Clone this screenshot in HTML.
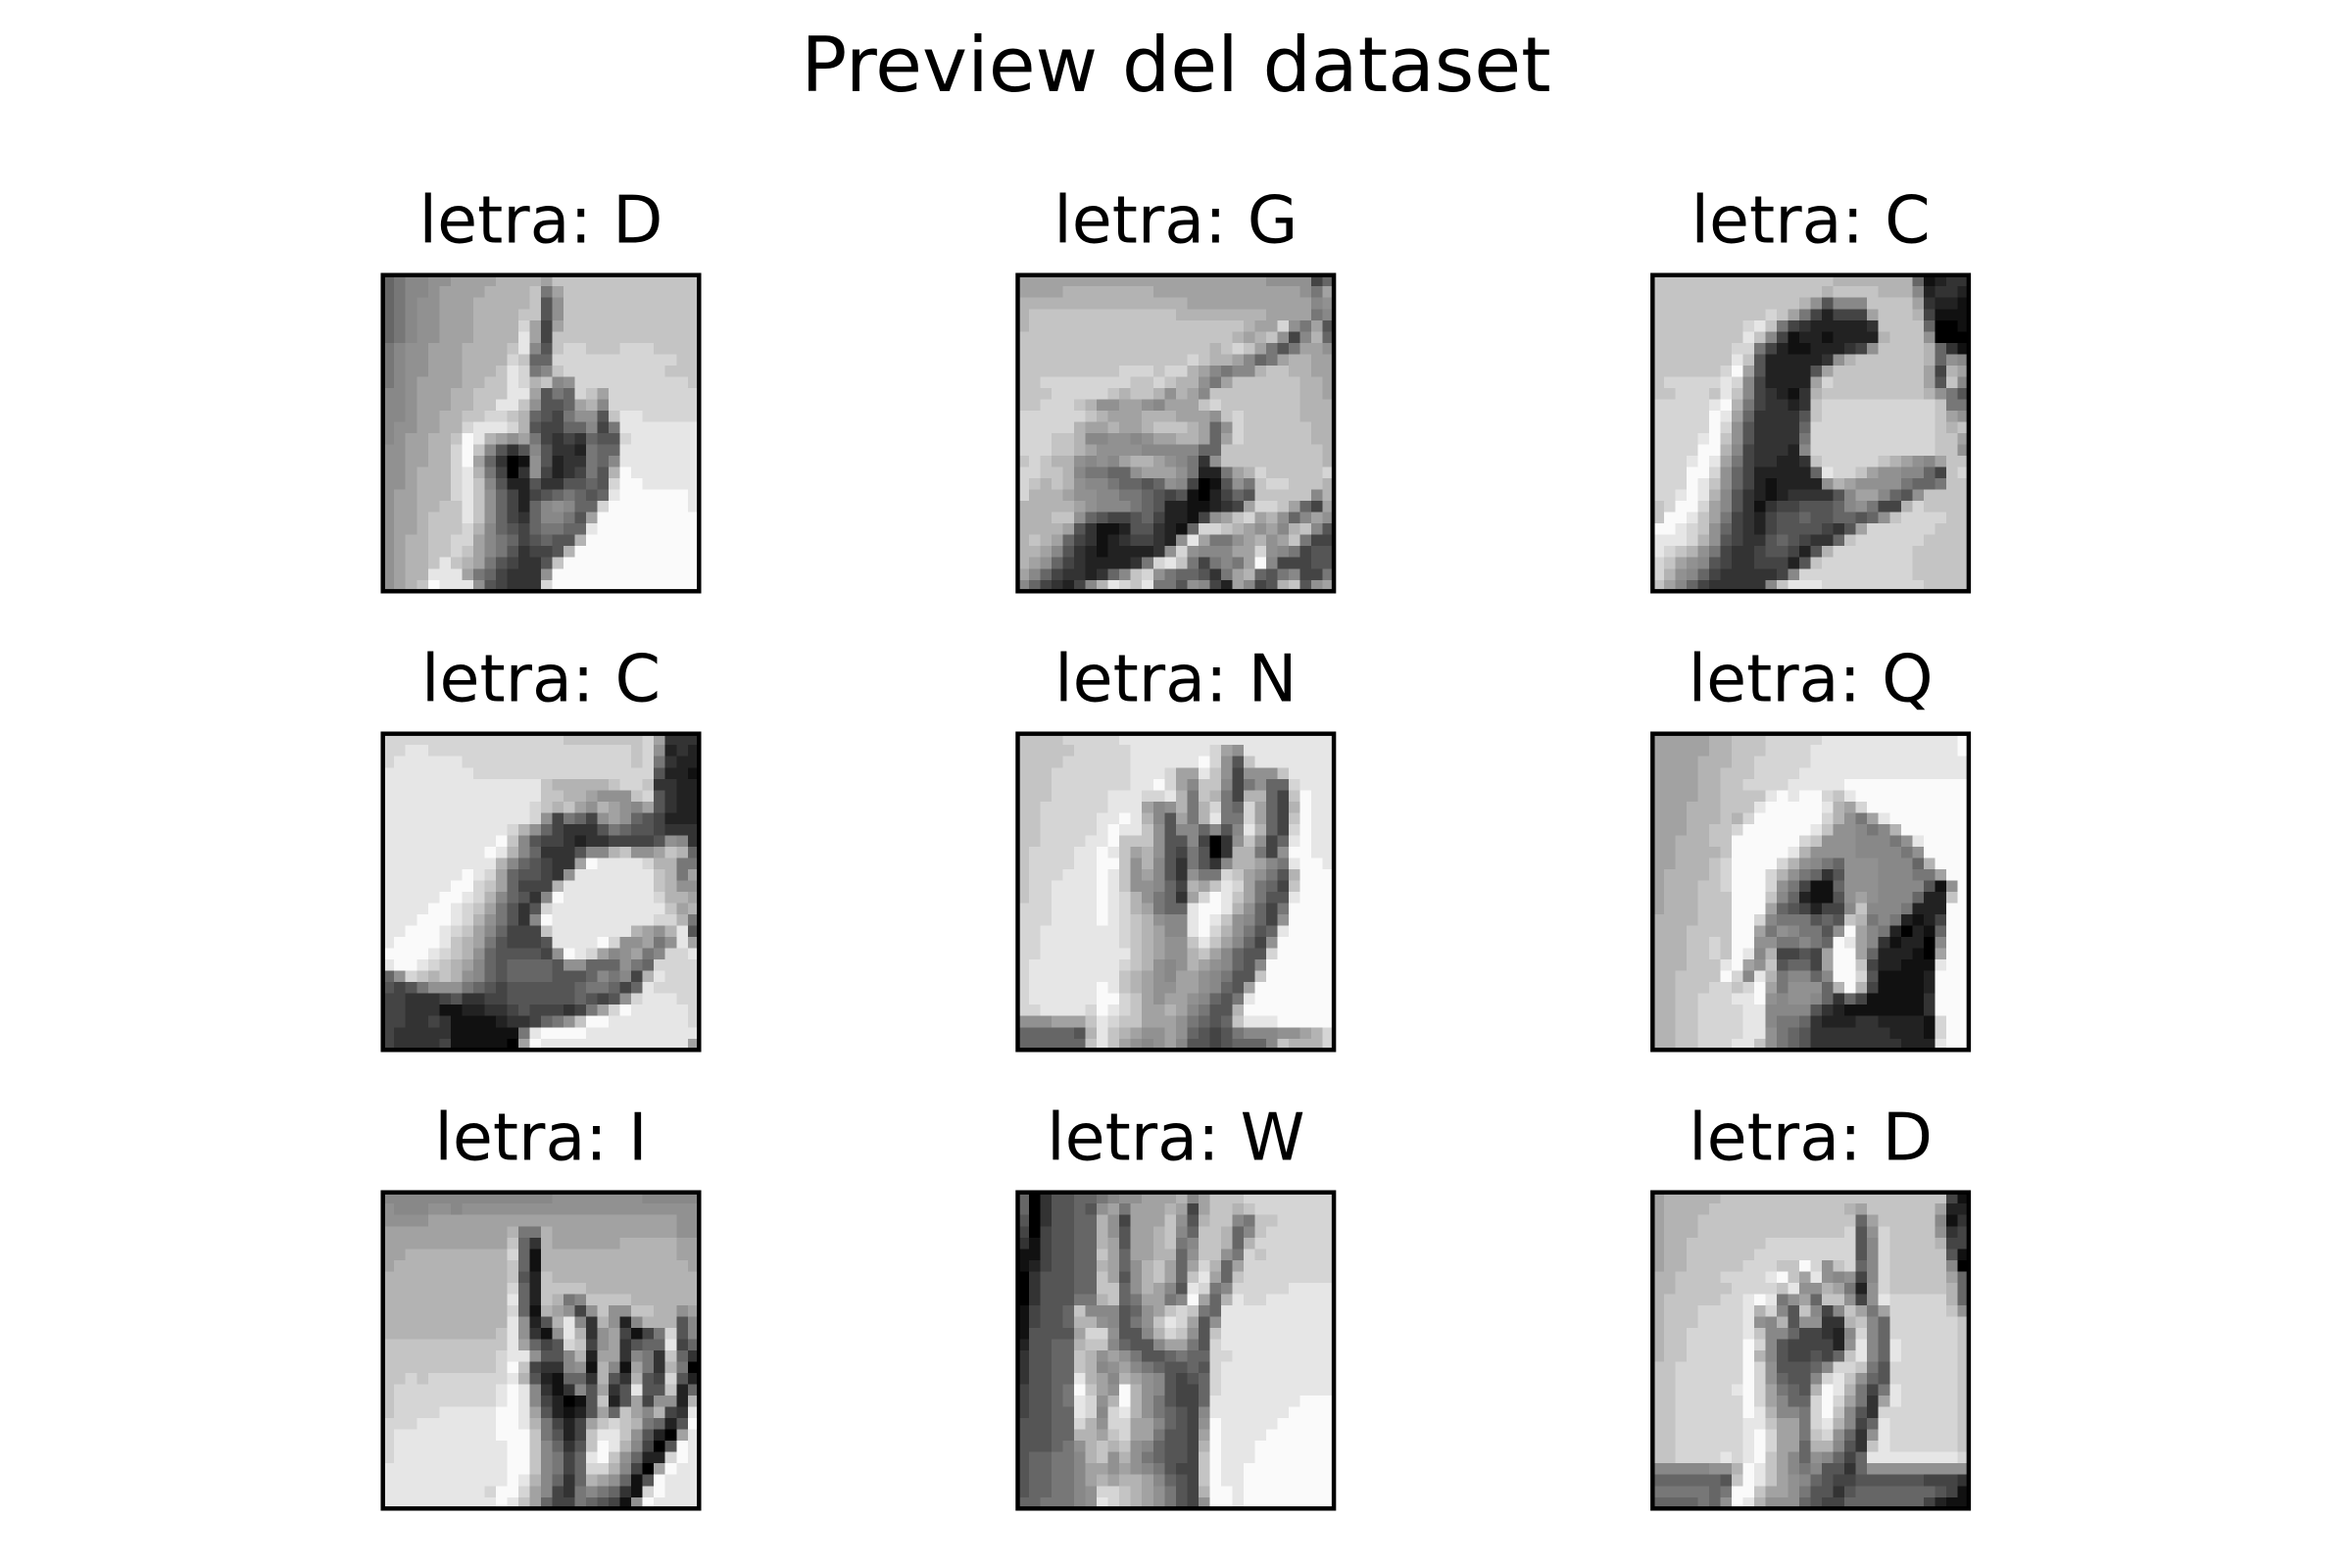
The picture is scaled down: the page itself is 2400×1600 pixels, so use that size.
<!DOCTYPE html>
<html lang="es">
<head>
<meta charset="utf-8">
<title>Preview del dataset</title>
<style>
html,body{margin:0;padding:0;background:#fff;width:2400px;height:1600px;overflow:hidden}
svg{display:block}
text{font-family:"DejaVu Sans","Liberation Sans",sans-serif;fill:#000}
</style>
</head>
<body>
<svg id="chart" xmlns="http://www.w3.org/2000/svg" width="2400" height="1600" viewBox="0 0 2400 1600">
<rect x="0" y="0" width="2400" height="1600" fill="#ffffff"/>
<text x="1200" y="93" text-anchor="middle" font-size="77.8">Preview del dataset</text>
</svg>
<script>
const letters=["D","G","C","C","N","Q","I","W","D"];
const imageD1=[
[6,7,8,8,9,9,10,10,10,10,11,11,11,11,10,12,12,12,12,12,12,12,12,12,12,12,12,12],
[6,7,8,8,9,10,10,10,10,11,11,11,11,12,7,10,12,12,12,12,12,12,12,12,12,12,12,12],
[6,7,8,9,9,10,10,10,11,11,11,11,11,12,5,9,12,12,12,12,12,12,12,12,12,12,12,12],
[6,7,8,9,9,10,10,10,11,11,11,11,12,12,5,9,12,12,12,12,12,12,12,12,12,12,12,12],
[6,7,8,9,9,10,10,10,11,11,11,11,13,10,4,10,12,12,12,12,12,12,12,12,12,12,12,12],
[6,7,8,9,9,10,10,10,11,11,11,11,14,10,4,12,12,12,12,12,12,12,12,12,12,12,12,12],
[7,8,9,9,10,10,10,11,11,11,11,12,14,8,5,12,13,13,12,12,12,13,13,13,12,12,12,12],
[7,8,9,9,10,10,10,11,11,11,11,13,12,6,6,13,13,13,13,13,13,13,13,13,13,13,12,12],
[7,8,9,9,10,10,10,11,11,11,12,14,13,7,8,12,13,13,13,13,13,13,13,13,13,12,12,12],
[7,8,9,10,10,10,10,11,11,12,12,14,13,11,12,8,9,13,13,13,13,13,13,13,13,13,13,12],
[8,8,9,10,10,10,11,11,12,12,12,14,14,10,5,7,6,13,12,10,13,13,13,13,13,13,13,13],
[8,8,9,10,10,10,11,11,12,12,14,14,12,9,5,5,6,10,11,8,13,13,13,13,13,13,13,13],
[8,8,9,10,10,11,11,12,12,13,13,12,11,6,5,4,7,9,9,5,12,14,14,13,13,13,13,13],
[8,9,9,10,10,11,11,13,14,14,14,13,11,5,4,4,6,6,8,4,7,14,14,14,14,14,14,14],
[8,9,10,10,11,11,12,15,14,11,10,9,10,7,4,3,4,3,6,5,5,13,14,14,14,14,14,14],
[9,9,10,10,11,11,13,15,12,8,5,3,5,8,5,3,3,2,7,6,6,14,14,14,14,14,14,14],
[9,9,10,10,11,11,13,15,10,6,3,0,1,9,5,2,3,3,7,6,8,14,14,14,14,14,14,14],
[9,9,10,11,11,11,13,14,11,7,4,0,3,9,4,2,3,4,7,5,11,15,14,14,14,14,14,14],
[9,9,10,11,11,11,13,14,12,8,5,2,2,5,3,3,5,5,6,5,13,15,15,14,14,14,14,14],
[9,10,10,11,11,11,13,14,12,9,6,4,2,4,5,6,7,6,5,6,14,15,15,15,15,15,15,14],
[9,10,10,11,11,12,12,14,12,9,6,4,2,6,8,9,8,6,6,13,15,15,15,15,15,15,15,14],
[9,10,10,11,12,12,12,14,12,9,6,4,3,6,8,8,7,5,10,15,15,15,15,15,15,15,15,15],
[9,10,10,11,12,12,12,13,11,8,6,5,4,6,7,7,6,6,14,15,15,15,15,15,15,15,15,15],
[9,10,11,11,12,12,13,13,10,8,7,6,4,5,6,5,5,11,15,15,15,15,15,15,15,15,15,15],
[9,10,11,11,12,12,13,12,10,8,7,5,3,4,4,5,11,15,15,15,15,15,15,15,15,15,15,15],
[9,10,11,11,12,14,12,11,10,7,5,4,3,3,5,12,15,15,15,15,15,15,15,15,15,15,15,15],
[9,10,11,11,14,14,14,10,7,6,4,3,3,3,9,15,15,15,15,15,15,15,15,15,15,15,15,15],
[9,10,11,12,15,14,14,14,9,5,4,3,3,3,13,15,15,15,15,15,15,15,15,15,15,15,15,15]];
const imageG=[
[10,10,10,10,10,10,10,10,10,10,10,10,10,10,10,10,10,10,10,10,10,10,9,9,9,9,4,6],
[10,10,10,10,11,11,11,11,11,11,11,11,10,10,10,10,10,10,10,10,10,10,10,10,10,9,7,10],
[11,11,11,11,11,11,11,11,11,11,11,11,11,11,11,10,10,10,10,10,10,10,10,10,10,10,8,9],
[11,12,12,12,12,12,12,12,12,12,12,12,12,12,11,11,11,11,11,11,11,11,10,10,10,10,7,8],
[11,12,12,12,12,12,12,12,12,12,12,12,12,12,12,12,12,12,12,12,11,10,10,13,9,7,10,5],
[12,12,12,12,12,12,12,12,12,12,12,12,12,12,12,12,12,12,12,11,10,11,12,9,4,8,11,6],
[12,12,12,12,12,12,12,12,12,12,12,12,12,12,12,12,12,11,12,13,12,10,7,5,7,10,10,9],
[12,12,12,12,12,12,12,12,12,12,12,12,12,12,12,13,12,11,11,10,8,6,7,10,11,11,10,10],
[12,12,12,12,12,12,12,12,12,13,13,13,12,13,13,11,10,8,7,8,8,11,12,12,11,11,10,10],
[12,12,13,13,13,13,13,13,13,13,12,12,13,12,11,11,9,7,10,12,12,12,12,12,12,11,11,10],
[12,12,12,13,13,13,13,13,12,11,12,12,11,9,11,10,8,12,12,12,12,12,12,12,12,11,11,10],
[12,12,13,13,13,12,11,9,9,10,10,9,8,10,10,10,12,13,12,12,12,12,12,12,12,11,11,11],
[13,13,13,13,13,13,12,11,10,10,10,11,11,11,10,10,10,9,12,13,12,12,12,12,12,11,11,11],
[13,13,13,13,13,11,10,10,11,10,10,11,12,12,12,11,10,6,9,13,12,12,12,12,12,12,11,11],
[13,13,13,12,12,11,8,8,9,9,8,9,10,10,11,11,10,6,10,13,12,12,12,12,12,12,11,11],
[13,13,13,12,12,11,10,9,9,9,9,8,8,8,8,8,6,6,12,12,12,12,12,12,12,12,12,11],
[12,13,12,11,11,9,8,9,8,10,11,11,10,9,8,7,3,9,12,12,12,12,12,12,12,12,12,11],
[13,13,12,12,11,8,7,7,6,6,9,10,10,10,9,7,2,2,7,10,11,13,12,12,12,12,12,13],
[13,12,11,12,11,9,8,8,7,6,6,5,6,9,8,4,0,1,5,9,7,12,13,13,12,12,12,11],
[13,11,11,11,10,9,9,8,8,7,7,6,5,4,5,1,0,2,4,6,5,12,12,12,12,12,8,11],
[11,11,11,11,11,10,9,8,8,8,7,6,5,2,2,1,1,2,3,4,10,13,13,12,10,6,4,10],
[11,11,11,12,12,9,6,5,4,4,5,6,4,2,2,1,4,9,10,12,13,10,11,9,6,8,10,9],
[11,11,11,11,10,5,3,1,1,2,5,5,3,2,1,6,13,13,12,11,10,9,10,8,11,12,8,5],
[11,12,11,10,6,4,3,1,2,3,4,4,3,2,9,14,10,7,7,9,10,11,9,10,12,7,4,4],
[11,11,10,8,5,3,2,1,2,2,2,2,3,9,13,9,8,8,8,10,10,13,9,8,7,4,5,5],
[11,10,9,6,4,3,2,2,2,2,3,7,13,14,12,7,4,7,8,7,10,15,8,4,4,4,5,5],
[10,8,6,4,3,3,2,3,6,8,12,13,9,7,6,6,5,3,7,10,11,6,5,7,8,4,4,7],
[8,6,4,3,2,4,8,11,14,13,12,14,7,7,5,9,8,4,2,10,8,4,5,11,12,5,9,10]];
const imageC1=[
[12,12,12,12,12,12,12,12,12,12,12,12,12,12,12,12,11,11,11,11,11,11,11,6,1,2,3,3],
[12,12,12,12,12,12,12,12,12,12,12,12,12,12,12,11,12,12,12,12,11,11,11,8,2,3,3,2],
[12,12,12,12,12,12,12,12,12,12,12,12,12,11,9,5,8,8,8,12,12,12,12,10,3,2,2,1],
[12,12,12,12,12,12,12,12,12,12,13,12,10,7,4,2,4,4,4,10,12,12,12,11,4,1,1,1],
[12,12,12,12,12,12,12,12,13,14,12,7,4,3,2,2,2,2,2,3,12,12,12,12,6,0,0,1],
[12,12,12,12,12,12,12,12,14,12,8,4,1,2,2,1,2,2,2,2,11,12,12,12,9,0,0,0],
[12,12,12,12,12,12,12,13,13,7,4,2,1,1,2,2,2,3,4,9,12,12,12,12,11,6,3,1],
[12,12,12,12,12,12,12,14,12,5,2,2,2,2,2,3,9,11,12,12,12,12,12,12,11,6,9,8],
[12,12,12,12,12,12,13,15,10,5,2,2,2,2,5,10,12,12,12,12,12,12,12,12,10,4,11,10],
[12,13,13,13,13,13,14,13,8,4,2,2,2,2,10,13,12,12,12,12,12,12,12,12,10,5,12,8],
[12,12,13,13,13,12,14,12,8,4,3,2,1,3,11,12,12,12,12,12,12,12,12,12,11,9,7,5],
[13,13,13,13,13,14,15,11,7,4,3,3,2,3,12,13,13,13,13,13,13,13,13,13,13,12,7,7],
[13,13,13,13,13,15,14,10,6,3,3,3,3,5,12,13,13,13,13,13,13,13,13,13,13,12,10,9],
[13,13,13,13,13,15,13,9,5,3,3,3,3,6,13,13,13,13,13,13,13,13,13,13,13,12,11,12],
[13,13,13,13,14,15,12,9,5,3,3,3,3,7,13,13,13,13,13,13,13,13,13,13,13,12,12,10],
[13,13,13,13,15,15,11,8,4,3,3,3,2,8,13,13,13,13,13,13,13,13,13,13,13,12,12,9],
[13,13,13,14,15,14,10,7,4,3,3,2,2,3,12,13,13,13,13,13,12,11,10,9,8,10,12,12],
[13,13,13,15,15,13,9,6,4,2,2,2,2,2,6,14,13,13,12,10,9,9,8,8,6,4,12,13],
[13,13,13,15,14,12,9,6,4,2,1,2,2,2,2,9,11,10,9,9,9,9,7,6,6,7,12,12],
[13,13,14,15,14,11,8,5,3,2,1,2,3,3,3,3,5,8,10,10,8,6,5,9,12,12,12,12],
[12,13,15,15,13,10,8,5,3,1,3,4,4,5,5,5,6,8,9,7,4,4,11,13,12,12,12,12],
[12,15,15,14,12,10,7,4,3,2,4,5,5,6,5,5,6,6,5,6,9,12,13,13,13,13,12,12],
[15,15,14,13,12,9,6,4,3,2,4,5,5,5,5,4,3,5,10,13,13,13,13,13,13,12,12,12],
[14,14,14,13,11,9,5,4,3,3,5,6,5,4,3,3,6,12,13,13,13,13,13,13,12,12,12,12],
[14,13,12,11,9,7,4,3,3,4,5,5,4,2,5,11,13,13,13,13,13,13,13,12,12,12,12,12],
[13,12,10,9,8,5,4,3,3,4,4,4,2,5,12,13,13,13,13,13,13,13,13,12,12,12,12,12],
[13,11,9,8,6,4,3,3,3,3,3,4,8,13,13,13,13,13,13,13,13,13,13,12,12,12,12,12],
[12,10,8,6,4,3,3,3,3,3,8,12,14,14,14,13,13,13,13,13,13,13,13,13,12,12,12,12]];
const imageC2=[
[13,13,13,13,13,13,13,13,13,13,13,13,13,13,13,13,12,12,12,12,12,12,12,13,10,3,3,3],
[13,13,14,14,13,13,13,13,13,13,13,13,13,13,13,13,13,13,13,13,13,13,12,13,9,2,3,2],
[13,14,14,14,14,14,14,13,13,13,13,13,13,13,13,13,13,13,13,13,13,13,12,13,7,3,2,2],
[14,14,14,14,14,14,14,14,13,13,13,13,13,13,13,13,13,13,13,13,13,13,13,13,5,2,2,1],
[14,14,14,14,14,14,14,14,14,14,14,14,14,14,12,11,11,11,11,11,12,13,13,12,3,3,2,2],
[14,14,14,14,14,14,14,14,14,14,14,14,14,14,12,12,11,11,10,9,9,9,12,13,5,3,2,2],
[14,14,14,14,14,14,14,14,14,14,14,14,14,13,12,11,12,10,9,11,10,9,8,10,5,3,2,2],
[14,14,14,14,14,14,14,14,14,14,14,14,14,13,9,4,7,6,4,9,10,9,6,5,4,2,2,2],
[14,14,14,14,14,14,14,14,14,14,14,13,11,9,6,4,3,3,3,5,7,6,5,5,4,3,3,3],
[14,14,14,14,14,14,14,14,14,14,15,12,8,5,4,4,3,2,3,3,4,4,4,4,5,9,8,3],
[14,14,14,14,14,14,14,14,14,15,14,11,8,6,3,3,3,5,8,8,11,12,9,9,10,12,11,6],
[14,14,14,14,14,14,14,14,14,14,11,8,6,5,4,3,3,10,15,14,14,14,14,13,11,11,7,7],
[14,14,14,14,14,14,14,15,14,13,10,6,5,5,4,3,9,14,14,14,14,14,14,14,12,11,7,10],
[14,14,14,14,14,14,15,15,13,12,10,6,4,4,4,11,14,14,14,14,14,14,14,14,12,11,9,9],
[14,14,14,14,14,15,15,14,13,11,8,6,5,3,8,15,14,14,14,14,14,14,14,14,13,11,11,10],
[14,14,14,14,15,15,14,13,12,10,7,5,3,5,13,14,14,14,14,14,14,14,14,14,14,12,10,11],
[14,14,14,15,15,15,14,13,11,9,7,5,3,8,15,14,14,14,14,14,14,14,14,14,13,13,11,7],
[14,14,15,15,15,14,13,12,10,8,6,4,4,4,12,14,14,14,14,14,14,14,11,10,9,11,14,5],
[14,15,15,15,15,14,12,11,10,7,5,4,4,4,5,14,14,14,14,15,13,9,9,10,7,9,14,10],
[15,15,15,15,14,13,12,11,9,6,5,5,5,5,4,9,15,14,13,10,8,9,10,7,8,13,13,14],
[14,15,15,14,13,12,11,10,8,6,5,6,6,6,6,5,9,9,6,6,6,9,7,6,13,13,13,13],
[6,9,13,12,11,12,11,9,8,6,5,6,6,6,6,5,5,5,6,8,7,8,4,11,14,13,13,13],
[5,4,5,7,9,9,9,7,6,5,4,5,5,5,5,5,5,6,7,7,6,4,6,14,13,13,13,13],
[4,4,3,3,3,4,5,3,3,4,4,5,5,5,5,5,5,6,5,4,5,9,13,14,14,14,13,13],
[4,4,3,3,3,1,1,2,2,3,3,4,5,4,4,4,3,4,7,10,13,15,14,14,14,14,14,13],
[4,4,3,3,4,3,1,1,1,1,2,3,3,4,6,7,9,12,15,15,14,14,14,14,14,14,14,13],
[4,3,3,3,3,3,1,1,1,1,1,1,7,14,15,15,15,15,14,14,14,14,14,14,14,14,14,14],
[4,3,3,3,3,4,1,1,1,1,1,0,10,15,14,14,14,14,14,14,14,14,14,14,14,14,14,10]];
const imageN=[
[12,12,12,12,13,13,13,13,13,14,14,14,14,14,14,14,14,14,14,14,14,14,14,14,14,14,14,14],
[12,12,12,12,12,13,13,13,13,13,14,14,14,14,14,14,14,13,10,9,14,14,14,14,14,14,14,14],
[12,12,12,12,13,13,13,13,13,13,14,14,14,14,14,14,15,13,9,5,12,14,14,14,14,14,14,14],
[12,12,12,13,13,13,13,13,13,13,14,14,14,13,10,10,14,12,9,4,9,9,9,12,14,14,14,14],
[12,12,12,13,13,13,13,13,13,13,14,14,15,13,10,8,12,12,8,4,7,9,6,6,13,14,14,14],
[12,12,12,13,13,13,13,13,14,14,14,13,13,14,11,7,12,11,7,4,11,11,6,4,12,15,14,14],
[12,12,13,13,13,13,13,13,14,14,14,10,8,9,11,7,11,13,7,6,13,10,6,4,11,15,14,14],
[12,12,13,13,13,13,13,14,14,15,14,11,8,5,10,7,11,14,7,7,13,10,6,4,12,15,14,14],
[12,12,13,13,13,13,13,14,15,14,14,12,9,5,8,8,6,8,5,8,14,11,6,4,13,15,14,14],
[12,12,13,13,13,13,14,14,15,12,12,12,9,5,5,8,4,0,3,9,12,9,4,6,14,15,14,14],
[12,13,13,13,13,14,14,15,14,12,10,11,9,5,4,7,5,0,3,11,11,7,4,9,15,15,14,14],
[12,13,13,13,13,14,14,15,15,12,9,11,8,5,3,7,5,3,8,11,11,10,8,7,14,15,15,14],
[12,13,13,13,14,14,14,15,14,12,9,10,8,5,3,9,7,7,13,12,10,9,7,5,11,15,15,15],
[12,13,13,14,14,14,14,15,14,12,9,9,8,6,4,11,10,12,14,13,10,7,6,4,12,15,15,15],
[12,13,13,14,14,14,14,15,14,13,11,9,7,6,3,10,13,15,14,12,10,7,5,5,14,15,15,15],
[13,13,13,14,14,14,14,15,14,13,11,10,7,6,6,14,15,15,14,11,9,6,4,7,15,15,15,15],
[13,13,13,14,14,14,14,15,14,13,12,11,9,8,8,14,15,14,12,9,8,6,4,9,15,15,15,15],
[13,13,14,14,14,14,14,14,14,13,12,11,10,8,8,14,15,13,11,9,7,5,6,14,15,15,15,15],
[13,13,14,14,14,14,14,14,14,13,12,11,10,9,9,12,14,12,10,8,6,4,9,15,15,15,15,15],
[13,13,14,14,14,14,14,14,14,14,12,11,10,9,9,11,12,10,8,6,5,5,13,15,15,15,15,15],
[13,14,14,14,14,14,14,14,14,13,12,11,9,8,9,11,10,9,8,6,5,8,15,15,15,15,15,15],
[13,14,14,14,14,14,14,14,14,12,11,10,9,8,10,10,9,8,7,5,5,12,15,15,15,15,15,15],
[13,14,14,14,14,14,14,15,14,12,11,10,9,9,10,10,9,8,6,5,10,15,15,15,15,15,15,15],
[13,14,14,14,14,14,14,15,15,13,12,10,9,10,10,9,8,6,5,7,14,15,15,15,15,15,15,15],
[13,13,14,14,14,14,13,15,14,13,12,10,10,11,10,8,7,5,5,11,15,15,15,15,15,15,15,15],
[9,9,9,10,10,10,12,14,13,12,12,10,10,10,9,7,6,5,6,12,14,14,14,15,15,15,15,15],
[6,6,6,6,6,5,11,14,12,11,10,9,9,10,9,6,5,4,5,7,8,8,8,9,9,10,11,13],
[6,6,6,6,6,6,12,14,12,10,9,8,9,10,8,5,5,4,5,6,6,6,8,12,11,11,11,13]];
const imageQ=[
[10,10,10,10,10,11,11,12,12,12,13,13,13,13,13,14,14,14,14,14,14,14,14,14,14,14,14,15],
[10,10,10,10,10,11,11,12,12,12,13,13,13,13,14,14,14,14,14,14,14,14,14,14,14,14,14,15],
[10,10,10,10,11,11,11,12,12,13,13,13,13,13,14,14,14,14,14,14,14,14,14,14,14,14,14,14],
[10,10,10,10,11,11,12,12,12,13,13,13,13,14,14,14,14,14,14,14,14,14,14,14,14,14,14,14],
[10,10,10,10,11,11,12,12,13,13,13,13,14,14,14,14,14,15,15,15,15,15,15,15,15,15,15,15],
[10,10,10,10,11,11,12,12,12,12,14,15,14,15,15,13,12,14,15,15,15,15,15,15,15,15,15,15],
[10,10,10,11,11,11,12,12,12,14,15,15,15,15,15,14,11,10,13,15,15,15,15,15,15,15,15,15],
[10,10,10,11,11,11,12,11,13,15,15,15,15,15,15,13,11,9,7,10,14,15,15,15,15,15,15,15],
[10,10,10,11,11,12,12,13,15,15,15,15,15,15,14,12,9,9,8,7,8,11,15,15,15,15,15,15],
[10,10,11,11,11,12,12,15,15,15,15,15,15,13,12,9,9,9,8,8,8,7,9,14,15,15,15,15],
[10,10,11,11,11,11,12,15,15,15,15,15,14,11,9,9,9,9,8,8,8,8,7,9,15,15,15,15],
[10,10,11,11,11,12,13,15,15,15,15,13,11,9,8,7,6,9,9,9,8,8,8,6,11,15,15,15],
[10,11,11,11,11,12,13,15,15,15,13,11,9,7,6,3,5,9,9,9,8,8,8,7,7,10,15,15],
[10,11,11,11,12,12,13,15,15,15,13,9,7,4,1,1,6,9,9,9,8,8,8,8,5,1,9,15],
[10,11,11,11,12,12,12,15,15,15,12,8,6,2,1,1,5,9,10,9,8,8,8,6,2,2,12,15],
[10,11,11,11,12,12,12,15,15,15,10,6,5,4,2,4,4,8,12,8,8,8,7,2,2,2,15,15],
[11,11,11,11,12,12,12,15,15,13,8,7,7,7,5,6,5,12,11,7,8,7,2,1,2,4,15,15],
[11,11,11,12,12,12,12,15,15,10,7,9,8,7,7,5,9,15,10,8,7,2,0,2,1,6,15,15],
[11,11,11,12,12,13,12,15,15,9,9,7,7,8,7,6,15,14,10,8,3,1,2,2,0,8,15,15],
[11,11,11,12,12,13,12,15,14,8,11,4,4,5,4,10,15,15,10,6,2,2,2,1,0,10,15,15],
[11,11,11,12,12,12,14,15,10,9,12,5,6,6,4,10,15,15,12,4,2,2,1,1,1,14,15,15],
[11,11,12,12,12,12,15,13,8,14,11,7,8,8,6,8,15,15,13,5,1,1,1,1,2,15,15,15],
[11,11,12,12,12,13,13,12,13,15,10,7,9,9,9,6,11,15,11,4,1,1,1,1,2,15,15,15],
[11,11,12,12,13,13,13,14,14,15,9,8,9,9,8,6,3,6,4,1,1,1,1,1,3,15,15,15],
[11,11,12,12,13,13,13,13,14,14,8,8,8,8,5,3,2,1,1,1,1,1,1,1,3,15,15,15],
[11,11,12,12,13,13,13,13,14,14,8,7,7,6,3,2,2,2,3,3,2,2,2,2,1,13,15,15],
[11,11,12,12,13,13,13,13,14,14,9,7,6,5,3,3,3,3,3,3,3,2,2,2,1,13,15,15],
[11,11,12,12,13,13,13,14,14,12,9,7,6,5,3,3,3,3,3,3,3,3,2,2,2,14,15,15]];
const imageI=[
[8,8,8,8,8,8,8,8,8,8,8,8,8,8,8,9,9,9,9,9,9,9,9,8,8,8,8,8],
[9,8,8,8,9,9,8,9,9,9,9,9,9,9,9,9,9,9,9,9,9,9,9,9,9,9,9,9],
[9,9,9,9,10,10,10,10,10,10,10,10,10,10,10,10,10,10,10,10,10,10,10,10,10,10,9,9],
[10,10,10,10,10,10,10,10,10,10,10,11,7,7,11,10,10,10,10,10,10,10,10,10,10,10,9,9],
[10,10,10,10,10,10,10,10,10,10,10,12,6,3,11,10,10,10,10,10,10,11,11,11,11,11,10,10],
[10,10,11,11,11,11,11,11,11,11,11,13,6,1,11,11,11,11,11,11,11,11,11,11,11,11,10,10],
[10,11,11,11,11,11,11,11,11,11,11,12,6,1,11,11,11,11,11,11,11,11,11,11,11,11,11,10],
[11,11,11,11,11,11,11,11,11,11,11,12,5,2,12,11,11,11,11,11,11,11,11,11,11,11,11,11],
[11,11,11,11,11,11,11,11,11,11,11,13,6,2,12,12,12,12,11,11,11,11,11,11,11,11,11,11],
[11,11,11,11,11,11,11,11,11,11,11,14,6,2,12,11,7,8,12,12,12,12,11,11,11,11,11,11],
[11,11,11,11,11,11,11,11,11,11,11,13,6,1,11,10,9,4,9,12,9,9,12,12,11,11,9,10],
[11,11,11,11,11,11,11,11,11,11,11,14,9,2,5,11,14,8,3,11,9,2,8,11,11,11,5,8],
[11,11,11,11,11,11,11,11,11,11,12,14,9,3,1,9,14,11,3,9,10,4,1,4,7,13,5,8],
[12,12,12,12,12,12,12,12,12,12,12,14,10,6,4,5,13,12,4,9,10,3,5,6,6,14,4,6],
[12,12,12,12,12,12,12,12,12,12,13,14,14,9,5,5,8,11,2,10,10,3,8,7,3,12,6,3],
[12,12,12,12,12,12,12,12,12,12,13,15,12,4,3,3,8,9,1,11,8,1,10,7,3,11,7,0],
[12,12,13,12,13,13,13,13,13,13,13,14,11,5,2,1,6,6,3,11,5,3,11,5,4,13,5,2],
[12,13,13,13,13,13,13,13,13,13,14,15,14,8,3,1,3,8,5,10,3,5,14,5,5,12,2,6],
[12,13,13,13,13,13,13,13,13,13,14,15,14,8,4,2,0,1,5,12,2,5,10,4,9,9,2,11],
[12,13,13,13,13,14,14,14,14,14,15,15,14,10,5,2,1,2,5,10,6,12,10,8,11,4,3,14],
[13,13,13,14,14,14,14,14,14,14,15,15,14,11,7,4,2,4,10,12,13,12,11,7,6,2,5,15],
[13,14,14,14,14,14,14,14,14,14,15,15,15,12,7,5,2,4,12,14,14,12,9,5,2,0,10,14],
[13,14,14,14,14,14,14,14,14,14,14,15,15,12,8,6,3,5,12,15,14,11,8,4,0,5,15,14],
[13,14,14,14,14,14,14,14,14,14,14,15,15,12,8,7,4,6,14,15,12,9,6,2,2,13,15,14],
[14,14,14,14,14,14,14,14,14,14,14,15,15,12,8,7,4,6,13,13,11,8,4,0,10,15,14,14],
[14,14,14,14,14,14,14,14,14,14,14,15,14,11,8,6,3,6,11,10,9,6,1,5,15,14,14,14],
[14,14,14,14,14,14,14,14,14,13,15,15,13,10,8,4,3,7,8,7,6,3,1,13,15,14,14,14],
[14,14,14,14,14,14,14,14,14,14,15,14,12,10,6,4,4,7,6,5,4,1,9,15,14,14,14,14]];
const imageW=[
[6,0,3,5,5,6,6,7,8,9,9,10,10,10,11,8,10,12,12,12,13,13,13,13,13,13,13,13],
[6,0,3,5,5,6,5,9,10,7,10,10,10,11,10,4,10,12,12,11,12,13,13,13,13,13,13,13],
[5,0,3,5,5,6,6,11,9,4,10,10,10,12,9,5,11,12,12,8,7,12,12,13,13,13,13,13],
[4,0,4,5,5,6,6,11,9,5,10,10,11,12,8,6,12,12,11,6,8,12,13,13,13,13,13,13],
[3,1,4,5,5,6,6,11,10,5,10,10,11,12,7,8,12,12,11,6,11,13,13,13,13,13,13,13],
[1,1,4,5,5,6,6,12,10,6,10,10,11,11,6,9,12,12,9,7,13,12,13,13,13,13,13,13],
[1,2,4,5,5,6,6,11,10,6,9,11,12,10,6,10,13,11,6,10,13,13,13,13,13,13,13,13],
[0,3,5,5,5,6,6,12,10,5,9,11,12,10,6,12,14,10,6,12,13,13,13,13,13,13,13,13],
[0,3,5,5,5,6,6,12,12,6,9,11,10,8,5,14,13,7,8,13,13,13,13,13,14,14,14,14],
[0,3,5,5,5,7,7,11,12,6,7,10,10,7,8,15,10,6,11,14,13,13,14,14,14,14,14,14],
[1,4,5,5,6,12,8,8,8,5,6,9,10,12,13,12,7,6,14,14,14,14,14,14,14,14,14,14],
[1,4,5,5,6,11,11,9,8,5,7,9,12,14,13,10,5,9,14,14,14,14,14,14,14,14,14,14],
[1,5,5,5,5,10,13,13,9,5,5,8,11,13,12,9,5,12,14,14,14,14,14,14,14,14,14,14],
[2,5,5,6,6,11,12,12,8,6,5,5,8,10,10,7,5,13,14,14,14,14,14,14,14,14,14,14],
[3,5,5,6,6,12,11,9,10,9,7,5,5,6,7,6,6,13,13,14,14,14,14,14,14,14,14,14],
[3,5,5,6,6,12,11,8,9,10,8,7,6,5,5,6,5,13,14,14,14,14,14,14,14,14,14,14],
[3,5,5,6,6,14,11,10,8,11,10,9,8,5,4,5,6,13,14,14,14,14,14,14,14,14,14,14],
[4,5,5,6,7,15,12,10,9,15,11,9,8,5,4,4,6,13,14,14,14,14,14,14,14,14,14,14],
[4,5,5,6,7,14,13,9,11,15,11,9,7,5,4,4,6,14,14,14,14,14,14,14,14,15,15,15],
[4,5,5,6,6,14,13,8,13,14,11,9,7,6,5,4,8,14,14,14,14,14,14,14,15,15,15,15],
[5,5,5,6,6,13,11,9,13,13,10,10,8,6,5,4,9,15,14,14,14,14,14,15,15,15,15,15],
[5,5,5,6,6,11,11,10,12,13,10,10,7,5,5,4,10,15,14,14,14,14,15,15,15,15,15,15],
[5,5,5,6,7,9,11,12,11,12,9,8,6,5,5,4,11,15,14,14,14,15,15,15,15,15,15,15],
[5,6,6,7,7,8,11,12,9,11,9,7,6,5,5,4,12,15,14,14,14,15,15,15,15,15,15,15],
[5,6,6,7,7,8,10,10,9,10,9,8,7,5,4,4,12,15,14,14,15,15,15,15,15,15,15,15],
[5,6,6,7,7,8,10,11,10,11,11,10,8,6,5,4,12,15,14,14,15,15,15,15,15,15,15,15],
[5,6,6,7,7,8,9,13,13,12,11,10,9,7,5,4,11,15,15,14,15,15,15,15,15,15,15,15],
[6,6,7,7,7,8,9,14,13,12,11,10,9,7,5,4,9,15,15,14,15,15,15,15,15,15,15,15]];
const imageD2=[
[10,11,11,11,11,11,12,12,12,12,12,12,12,12,12,12,12,12,12,12,12,12,12,12,12,12,4,1],
[10,11,11,11,11,12,12,12,12,12,12,12,12,12,12,12,12,11,10,12,12,12,12,12,12,10,2,2],
[10,11,11,11,12,12,12,12,12,12,12,12,12,12,12,12,12,12,6,10,12,12,12,12,12,8,1,3],
[10,11,11,11,12,12,12,12,12,12,12,12,12,12,12,12,12,13,5,9,13,12,12,12,12,9,3,4],
[10,11,11,12,12,12,12,12,12,12,13,13,13,13,13,13,13,13,5,8,13,12,12,12,12,11,4,4],
[10,11,11,12,12,12,12,12,12,13,13,13,13,13,13,13,13,13,5,8,13,12,12,12,12,12,5,1],
[10,11,11,12,12,12,12,12,13,13,13,12,12,15,13,9,12,13,6,8,13,12,12,12,12,12,8,0],
[11,11,12,12,12,12,13,13,13,13,14,15,12,10,14,9,8,9,4,8,13,12,12,12,12,12,10,6],
[11,11,12,12,12,12,12,13,13,13,13,12,14,9,9,11,10,7,2,9,13,12,12,12,12,12,11,6],
[11,12,12,12,12,12,13,13,14,15,14,7,9,10,6,12,12,9,4,9,14,13,13,13,13,13,11,6],
[11,12,12,12,13,13,13,13,14,11,13,8,5,12,8,4,8,12,10,7,10,13,13,13,13,13,12,9],
[11,12,12,12,13,13,13,13,14,9,8,11,5,9,9,3,3,11,12,8,6,13,13,13,13,13,13,12],
[11,12,12,13,13,13,13,13,14,12,8,8,6,4,4,3,2,8,13,8,6,13,13,13,13,13,13,12],
[11,12,12,13,13,13,13,13,15,13,8,5,4,4,4,4,2,9,14,8,6,14,13,13,13,13,13,12],
[11,12,12,13,13,13,13,13,15,11,8,5,4,4,5,4,6,12,14,8,6,14,13,13,13,13,13,12],
[12,12,13,13,13,13,13,13,15,13,9,5,5,5,6,8,13,13,12,7,5,13,13,13,13,13,13,12],
[12,12,13,13,13,13,13,13,15,13,9,6,5,5,8,13,14,12,9,6,5,13,13,13,13,13,13,12],
[12,12,13,13,13,13,13,14,15,13,10,7,6,5,11,15,14,11,7,4,7,14,13,13,13,13,13,12],
[12,12,13,13,13,13,13,13,15,13,10,8,6,6,13,15,13,10,7,3,10,14,13,13,13,13,13,12],
[12,12,13,13,13,13,13,13,15,14,11,8,8,7,13,15,12,8,5,3,13,13,13,13,13,13,13,12],
[12,12,13,13,13,13,13,13,14,14,12,10,10,7,13,14,11,8,4,6,14,13,13,13,13,13,13,12],
[12,12,13,13,13,13,13,13,14,15,13,10,10,7,12,13,9,6,3,9,14,13,13,13,13,13,13,12],
[12,12,13,13,13,13,13,13,14,15,13,10,10,6,11,11,8,5,3,12,14,13,13,13,13,13,13,12],
[12,12,13,13,13,13,14,13,14,15,12,10,8,6,9,8,6,4,6,14,14,14,14,14,14,14,14,13],
[8,8,8,8,8,9,9,11,15,14,12,10,8,7,8,5,5,3,6,9,9,9,9,9,9,9,9,9],
[6,6,6,6,6,6,5,12,15,14,12,10,9,8,6,5,4,4,5,5,5,5,5,5,4,4,4,3],
[7,7,7,7,7,6,7,15,15,12,10,10,9,7,5,5,3,5,6,6,6,6,6,6,6,5,4,1],
[6,6,6,6,7,6,9,15,14,11,9,9,9,6,5,4,4,6,6,6,6,6,6,6,4,2,1,1]];
const images=[imageD1,imageG,imageC1,imageC2,imageN,imageQ,imageI,imageW,imageD2];

const NS="http://www.w3.org/2000/svg";
const svg=document.getElementById("chart");
const axesSize=322.6;
const gridCols=3;
const gridRows=3;
const levelMax=15;
function axesLeft(col){return 390.7+col*647.8;}
function axesTop(row){return 280.7+row*468;}
function cellX(col,c,n){return axesLeft(col)+c*axesSize/n;}
function cellY(row,r,n){return axesTop(row)+r*axesSize/n;}
function greyOf(v){
  const t=Math.max(0,Math.min(levelMax,v));
  let g=t*17;
  if(t>=9&&t<levelMax){g-=8;}
  if(t>=levelMax){g=250;}
  g=Math.round(g);
  return "rgb("+g+","+g+","+g+")";
}

images.forEach(function(img,i){
  const col=i%gridCols;
  const row=Math.floor(i/gridRows);
  const group=document.createElementNS(NS,"g");
  
  
  const label=document.createElementNS(NS,"text");
  
  
  label.setAttribute("x",axesLeft(col)+axesSize/2);
  label.setAttribute("y",axesTop(row)-33.3);
  label.setAttribute("text-anchor","middle");
  label.setAttribute("font-size","66.67");
  label.textContent="letra: "+letters[i];
  group.appendChild(label);
  const n=img.length;
  img.forEach(function(values,r){
    values.forEach(function(v,c){
      const cell=document.createElementNS(NS,"rect");
      
      
      const x0=cellX(col,c,values.length),x1=cellX(col,c+1,values.length);
      const y0=cellY(row,r,n),y1=cellY(row,r+1,n);
      cell.setAttribute("x",x0);
      cell.setAttribute("y",y0);
      cell.setAttribute("width",x1-x0);
      cell.setAttribute("height",y1-y0);
      cell.setAttribute("fill",greyOf(v));
      cell.setAttribute("shape-rendering","crispEdges");
      group.appendChild(cell);
    });
  });
  const frame=document.createElementNS(NS,"rect");
  
  
  frame.setAttribute("x",axesLeft(col));
  frame.setAttribute("y",axesTop(row));
  frame.setAttribute("width",axesSize);
  frame.setAttribute("height",axesSize);
  frame.setAttribute("fill","none");
  frame.setAttribute("stroke","#000");
  frame.setAttribute("stroke-width","4.44");
  group.appendChild(frame);
  svg.appendChild(group);
});
</script>
</body>
</html>
